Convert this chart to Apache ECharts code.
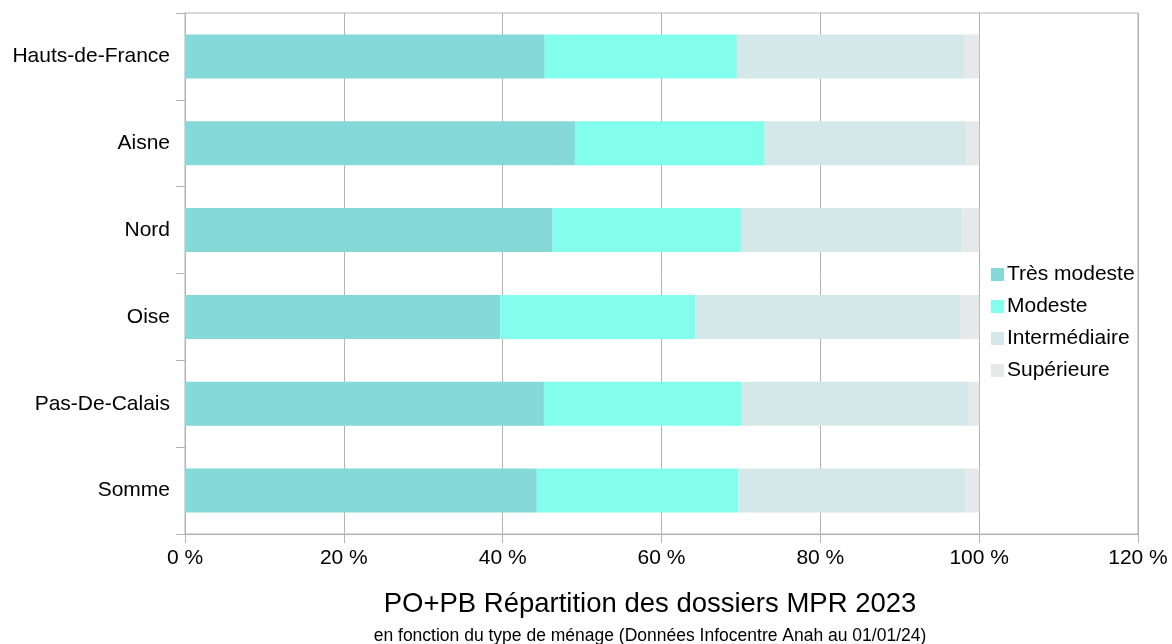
<!DOCTYPE html>
<html>
<head>
<meta charset="utf-8">
<script src="https://cdn.jsdelivr.net/npm/echarts@6/dist/echarts.min.js"></script>
<style>html,body{margin:0;padding:0;background:#fff}#c{width:1172px;height:644px}</style>
</head>
<body>
<div id="c"></div>
<script>
const categories = ['Hauts-de-France', 'Aisne', 'Nord', 'Oise', 'Pas-De-Calais', 'Somme'];
const tresModeste = [45.3, 49.1, 46.3, 39.7, 45.2, 44.3];
const modeste = [24.2, 23.9, 23.7, 24.6, 24.9, 25.4];
const intermediaire = [28.6, 25.4, 27.9, 33.3, 28.6, 28.6];
const superieure = [1.9, 1.6, 2.1, 2.4, 1.3, 1.7];
const seriesNames = ['Très modeste', 'Modeste', 'Intermédiaire', 'Supérieure'];
const colors = ['#86d9d9', '#83fdec', '#d4e7e9', '#e5e9ea'];
const font = '"Liberation Sans", Arial, sans-serif';

const chart = echarts.init(document.getElementById('c'));
const mk = (name, data) => ({
  name, type: 'bar', stack: 'total', data, barWidth: 44,
  emphasis: {disabled: true}
});
chart.setOption({
  animation: false,
  color: colors,
  textStyle: {fontFamily: font},
  title: [
    {text: 'PO+PB Répartition des dossiers MPR 2023', left: 645, top: 585, textAlign: 'center',
     textStyle: {fontFamily: font, fontSize: 27.5, fontWeight: 'normal', color: '#000'}},
    {text: 'en fonction du type de ménage (Données Infocentre Anah au 01/01/24)', left: 645, top: 622, textAlign: 'center',
     textStyle: {fontFamily: font, fontSize: 17.5, fontWeight: 'normal', color: '#000'}}
  ],
  legend: {
    orient: 'vertical', left: 986, top: 259, itemWidth: 13, itemHeight: 13, itemGap: 11,
    icon: 'rect', data: seriesNames,
    textStyle: {fontFamily: font, fontSize: 21, color: '#000', padding: [0, 0, 0, -2]}
  },
  grid: {left: 185, right: 34, top: 13, bottom: 110, containLabel: false,
         show: true, borderColor: '#b3b3b3', borderWidth: 1},
  xAxis: {
    type: 'value', min: 0, max: 120, interval: 20,
    axisLine: {show: true, lineStyle: {color: '#b3b3b3'}},
    axisTick: {show: true, length: 9, lineStyle: {color: '#b3b3b3'}},
    splitLine: {show: true, lineStyle: {color: '#b3b3b3'}},
    axisLabel: {formatter: '{value} %', fontSize: 21, color: '#000', margin: 14, fontFamily: font}
  },
  yAxis: {
    type: 'category', data: categories, inverse: true,
    axisLine: {show: true, lineStyle: {color: '#b3b3b3'}},
    axisTick: {show: true, length: 9, lineStyle: {color: '#b3b3b3'}},
    axisLabel: {fontSize: 21, color: '#000', margin: 15, fontFamily: font}
  },
  series: [
    mk(seriesNames[0], tresModeste),
    mk(seriesNames[1], modeste),
    mk(seriesNames[2], intermediaire),
    mk(seriesNames[3], superieure)
  ]
});
</script>
</body>
</html>
